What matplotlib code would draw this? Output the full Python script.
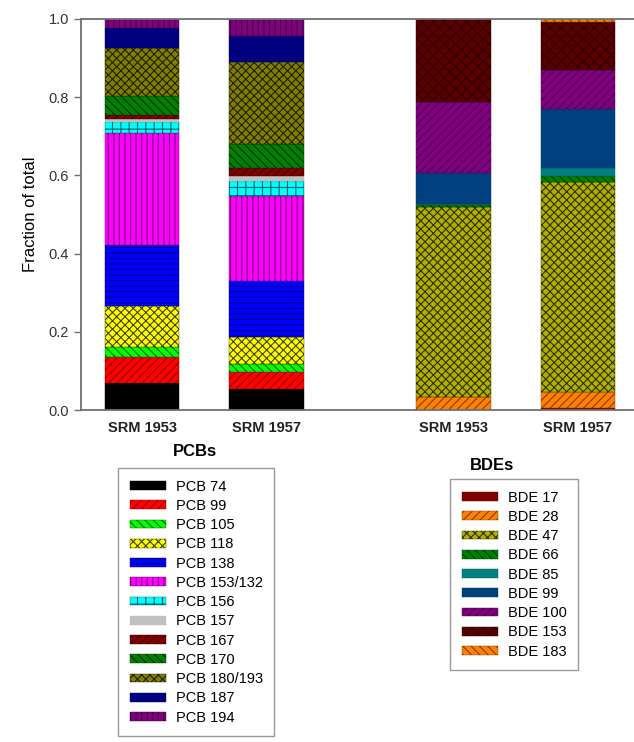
import matplotlib
matplotlib.use("Agg")
import matplotlib.pyplot as plt
import numpy as np

plt.rcParams['font.family'] = ['Liberation Sans', 'DejaVu Sans']
plt.rcParams['hatch.linewidth'] = 0.8

# PCB congeners, fraction of total
pcb_labels = ["PCB 74", "PCB 99", "PCB 105", "PCB 118", "PCB 138", "PCB 153/132",
              "PCB 156", "PCB 157", "PCB 167", "PCB 170", "PCB 180/193", "PCB 187", "PCB 194"]
pcb_srm1953 = [0.070, 0.066, 0.026, 0.104, 0.156, 0.286, 0.029, 0.006, 0.011, 0.049, 0.124, 0.049, 0.024]
pcb_srm1957 = [0.054, 0.044, 0.019, 0.069, 0.145, 0.216, 0.039, 0.013, 0.019, 0.062, 0.211, 0.065, 0.044]
pcb_colors = ["#000000", "#ff0000", "#00ff00", "#ffff00", "#0000ff", "#ff00ff",
              "#00ffff", "#c0c0c0", "#800000", "#008000", "#808000", "#000080", "#800080"]
pcb_hatch = ["", "////", "\\\\\\\\", "xxxx", "---", "|||", "++", "", "////", "\\\\\\\\", "xxxx", "", "|||"]
pcb_hcol = ["#000000", "#900000", "#006000", "#404000", "#000080", "#700070",
            "#006060", "#c0c0c0", "#400000", "#003000", "#202000", "#000040", "#400040"]

# BDE congeners
bde_labels = ["BDE 17", "BDE 28", "BDE 47", "BDE 66", "BDE 85", "BDE 99", "BDE 100", "BDE 153", "BDE 183"]
bde_srm1953 = [0.000, 0.032, 0.488, 0.004, 0.003, 0.078, 0.184, 0.211, 0.000]
bde_srm1957 = [0.005, 0.042, 0.537, 0.014, 0.020, 0.151, 0.101, 0.123, 0.007]
bde_colors = ["#800000", "#ff8000", "#b0b000", "#008000", "#008080", "#004080", "#800080", "#5a0000", "#ff8000"]
bde_hatch = ["", "////", "xxxx", "\\\\\\\\", "", "", "////", "xxx", "\\\\\\\\"]
bde_hcol = ["#600000", "#804000", "#303000", "#004000", "#006060", "#003060", "#500050", "#300000", "#804000"]

tick_labels = ["SRM 1953", "SRM 1957", "SRM 1953", "SRM 1957"]
pcb_x = np.array([0.0, 1.0])
bde_x = np.array([2.5, 3.5])
width = 0.6

fig = plt.figure(figsize=(6.34, 7.42), dpi=100)
ax = fig.add_axes([81 / 634, 1 - 410 / 742, 1 - 81 / 634, (410 - 19) / 742])

pcb_handles = []
bottom = np.zeros(2)
for i, lab in enumerate(pcb_labels):
    vals = np.array([pcb_srm1953[i], pcb_srm1957[i]])
    b = ax.bar(pcb_x, vals, width, bottom=bottom, color=pcb_colors[i], hatch=pcb_hatch[i],
               edgecolor=pcb_hcol[i], linewidth=0.3, label=lab)
    pcb_handles.append(b)
    bottom += vals

bde_handles = []
bottom = np.zeros(2)
for i, lab in enumerate(bde_labels):
    vals = np.array([bde_srm1953[i], bde_srm1957[i]])
    b = ax.bar(bde_x, vals, width, bottom=bottom, color=bde_colors[i], hatch=bde_hatch[i],
               edgecolor=bde_hcol[i], linewidth=0.3, label=lab)
    bde_handles.append(b)
    bottom += vals

ax.set_xlim(-0.49, 3.95)
ax.set_ylim(0, 1.0)
ax.set_yticks(np.arange(0, 1.01, 0.2))
ax.set_yticklabels(["%.1f" % v for v in np.arange(0, 1.01, 0.2)], fontsize=10.5, color="#333333")
ax.set_xticks(np.concatenate([pcb_x, bde_x]))
ax.set_xticklabels(tick_labels, fontsize=10.5, fontweight="bold", color="#222222")
ax.tick_params(axis="x", length=0, pad=8)
ax.tick_params(axis="y", length=5, width=1, color="#707070", direction="out")
ax.set_ylabel("Fraction of total", fontsize=12, labelpad=8)
ax.spines["right"].set_visible(False)
for s in ["left", "top", "bottom"]:
    ax.spines[s].set_color("#707070")
    ax.spines[s].set_linewidth(1.3)

fig.text(195 / 634, 1 - 451 / 742, "PCBs", ha="center", va="center", fontsize=12, fontweight="bold")
fig.text(492 / 634, 1 - 465 / 742, "BDEs", ha="center", va="center", fontsize=12, fontweight="bold")

leg_kw = dict(loc="upper left", bbox_transform=fig.transFigure, fontsize=10.5, frameon=True,
              fancybox=False, edgecolor="#808080", handlelength=2.5, handleheight=0.55,
              labelspacing=0.36, borderpad=0.8, borderaxespad=0, handletextpad=0.65)

leg1 = ax.legend(handles=pcb_handles, labels=pcb_labels,
                 bbox_to_anchor=(118 / 634, 1 - 468 / 742), **leg_kw)
leg1.get_frame().set_linewidth(1.0)
ax.add_artist(leg1)

leg2 = ax.legend(handles=bde_handles, labels=bde_labels,
                 bbox_to_anchor=(450 / 634, 1 - 479 / 742), **leg_kw)
leg2.get_frame().set_linewidth(1.0)

fig.savefig("out.png", dpi=100)
